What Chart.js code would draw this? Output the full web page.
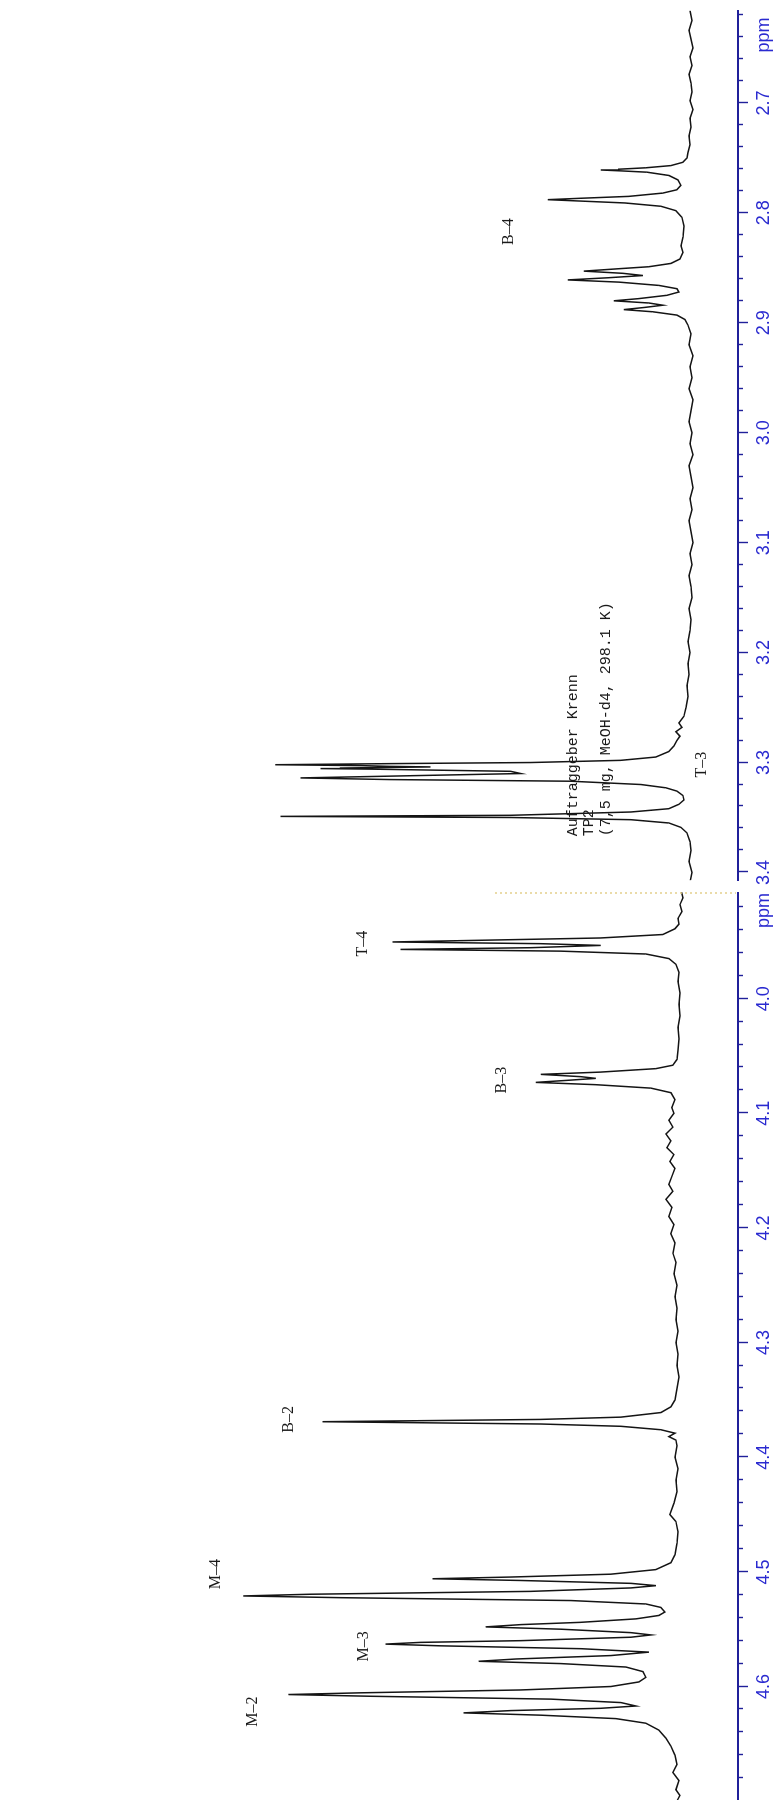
<!DOCTYPE html>
<html>
<head>
<meta charset="utf-8">
<script src="https://cdn.jsdelivr.net/npm/chart.js@4.4.1/dist/chart.umd.min.js"></script>
<style>
	html, body { margin: 0; padding: 0; background: #fff; }
	body { width: 775px; height: 1804px; overflow: hidden; position: relative; }
	/* the spectrum is laid out landscape, then turned a quarter to the left */
	#sheet {
		position: absolute; left: 0; top: 0;
		width: 1804px; height: 791px;
		transform-origin: 0 0;
		transform: translate(0, 1804px) rotate(-90deg);
	}
	#sheet canvas { position: absolute; top: 0; }
	#lowField { left: 4px; }
	#highField { left: 904px; }
</style>
</head>
<body>
<div id="sheet">
	<canvas id="lowField" width="908" height="791"></canvas>
	<canvas id="highField" width="900" height="791"></canvas>
</div>
<script>
/************  DATA  ************/

// 2.6 - 3.4 ppm window
const highFieldShift = [
	2.616, 2.625, 2.634, 2.642, 2.650, 2.658, 2.666, 2.674, 2.682, 2.690,
	2.698, 2.706, 2.714, 2.722, 2.730, 2.738, 2.745, 2.750, 2.754, 2.757,
	2.759, 2.7603, 2.761, 2.7618, 2.763, 2.766, 2.770, 2.775, 2.779, 2.782,
	2.785, 2.7868, 2.788, 2.7892, 2.791, 2.794, 2.798, 2.804, 2.812, 2.822,
	2.830, 2.836, 2.842, 2.846, 2.849, 2.851, 2.853, 2.855, 2.857, 2.859,
	2.861, 2.863, 2.866, 2.869, 2.872, 2.875, 2.878, 2.880, 2.882, 2.884,
	2.886, 2.888, 2.890, 2.893, 2.897, 2.902, 2.910, 2.920, 2.930, 2.940,
	2.950, 2.960, 2.970, 2.980, 2.990, 3.000, 3.010, 3.020, 3.030, 3.040,
	3.050, 3.060, 3.070, 3.080, 3.090, 3.100, 3.110, 3.120, 3.130, 3.140,
	3.150, 3.160, 3.170, 3.180, 3.190, 3.200, 3.210, 3.220, 3.230, 3.240,
	3.250, 3.258, 3.264, 3.268, 3.272, 3.276, 3.280, 3.285, 3.290, 3.295,
	3.298, 3.300, 3.301, 3.302, 3.3028, 3.3035, 3.304, 3.305, 3.3055, 3.306,
	3.308, 3.310, 3.312, 3.314, 3.3155, 3.317, 3.320, 3.323, 3.326, 3.330,
	3.334, 3.338, 3.342, 3.345, 3.348, 3.349, 3.350, 3.352, 3.355, 3.359,
	3.364, 3.372, 3.380, 3.390, 3.400, 3.409
];
const highFieldSignal = [
	1, -1, 2, 0, -2, 1, -1, 2, 0, -1,
	1, -2, 1, 0, 2, 1, 3, 4, 8, 20,
	45, 72, 90, 70, 44, 22, 13, 10, 14, 28,
	62, 112, 143, 112, 66, 30, 15, 9, 7, 8,
	10, 8, 11, 20, 42, 75, 107, 68, 48, 82,
	123, 72, 32, 14, 12, 24, 52, 77, 42, 28,
	46, 67, 38, 14, 6, 3, 0, 2, -2, 1,
	-1, 2, -2, 0, 2, -1, 1, -2, 2, 0,
	-2, 1, -1, 2, 0, -2, 1, -1, 2, 0,
	-1, 2, 0, 1, 3, 1, 3, 2, 4, 3,
	5, 7, 12, 9, 15, 11, 14, 17, 22, 35,
	70, 160, 300, 415, 330, 300, 260, 350, 370, 320,
	180, 170, 280, 390, 300, 120, 50, 25, 14, 8,
	7, 12, 22, 60, 180, 410, 180, 60, 22, 10,
	4, 1, 0, 2, -1, 1
];

// 3.9 - 4.7 ppm window
const lowFieldShift = [
	3.905, 3.912, 3.918, 3.924, 3.930, 3.935, 3.939, 3.944, 3.947, 3.9505,
	3.952, 3.9535, 3.9555, 3.957, 3.9585, 3.961, 3.965, 3.970, 3.977, 3.985,
	3.995, 4.005, 4.015, 4.025, 4.035, 4.045, 4.053, 4.058, 4.061, 4.064,
	4.066, 4.068, 4.0695, 4.071, 4.073, 4.075, 4.078, 4.082, 4.088, 4.095,
	4.100, 4.106, 4.112, 4.118, 4.124, 4.130, 4.136, 4.142, 4.148, 4.155,
	4.162, 4.168, 4.175, 4.182, 4.190, 4.197, 4.205, 4.213, 4.222, 4.230,
	4.240, 4.250, 4.260, 4.270, 4.280, 4.290, 4.300, 4.310, 4.320, 4.330,
	4.340, 4.350, 4.356, 4.361, 4.365, 4.367, 4.369, 4.371, 4.373, 4.376,
	4.379, 4.382, 4.385, 4.390, 4.400, 4.410, 4.420, 4.430, 4.440, 4.450,
	4.456, 4.465, 4.475, 4.485, 4.492, 4.498, 4.502, 4.5045, 4.506, 4.5075,
	4.510, 4.512, 4.514, 4.517, 4.5195, 4.521, 4.5225, 4.525, 4.528, 4.531,
	4.535, 4.538, 4.541, 4.544, 4.546, 4.548, 4.550, 4.553, 4.555, 4.557,
	4.560, 4.5615, 4.563, 4.5645, 4.567, 4.570, 4.573, 4.576, 4.578, 4.580,
	4.583, 4.587, 4.592, 4.596, 4.600, 4.603, 4.6055, 4.607, 4.6085, 4.611,
	4.614, 4.617, 4.619, 4.621, 4.623, 4.625, 4.628, 4.632, 4.638, 4.645,
	4.652, 4.660, 4.668, 4.675, 4.682, 4.690, 4.695, 4.700
];
const lowFieldSignal = [
	10, 8, 11, 9, 13, 12, 16, 28, 90, 298,
	150, 90, 160, 290, 130, 45, 22, 15, 12, 13,
	11, 12, 11, 13, 12, 13, 14, 18, 35, 90,
	150, 110, 95, 120, 155, 95, 40, 20, 16, 19,
	17, 22, 18, 25, 20, 24, 17, 21, 16, 19,
	22, 18, 25, 19, 22, 17, 20, 16, 18, 15,
	17, 14, 16, 14, 15, 13, 15, 13, 14, 12,
	14, 16, 20, 30, 70, 150, 368, 150, 70, 30,
	16, 22, 15, 14, 16, 13, 15, 14, 17, 21,
	15, 13, 14, 16, 20, 35, 80, 180, 258, 170,
	60, 35, 60, 160, 380, 447, 350, 120, 45, 30,
	26, 32, 55, 110, 170, 205, 130, 60, 40, 60,
	170, 270, 305, 250, 110, 42, 80, 175, 212, 130,
	65, 48, 45, 52, 80, 170, 330, 402, 320, 140,
	70, 55, 90, 180, 227, 150, 75, 45, 32, 25,
	20, 16, 14, 18, 12, 15, 11, 14
];

// peak assignments
const highFieldLabels = ['B–4', 'T–3'];
const highFieldLabelShift = [2.817, 3.302];
const highFieldLabelLevel = [182, -11];
const lowFieldLabels = ['T–4', 'B–3', 'B–2', 'M–4', 'M–3', 'M–2'];
const lowFieldLabelShift = [3.952, 4.071, 4.367, 4.502, 4.565, 4.622];
const lowFieldLabelLevel = [328, 189, 402, 474, 327, 438];

const headerLines = ['Auftraggeber Krenn', 'TP2', '(7,5 mg, MeOH-d4, 298.1 K)'];

/************  STYLE  ************/

const axisBlue = '#20209a';
const labelBlue = '#2a2ad0';

function isTenth(v) {
	return Math.abs(v * 10 - Math.round(v * 10)) < 1e-6;
}
function isStep(v) {
	return Math.abs(v * 50 - Math.round(v * 50)) < 1e-6;
}

// ticks of two lengths, unit, peak names and the sample header
const axisDecor = {
	id: 'axisDecor',
	afterDraw(chart, args, opts) {
		const ctx = chart.ctx;
		const xs = chart.scales.x;
		const ys = chart.scales.y;
		ctx.save();

		ctx.strokeStyle = axisBlue;
		ctx.lineWidth = 1.4;
		xs.ticks.forEach(t => {
			if (!isStep(t.value)) return;
			const px = Math.round(xs.getPixelForValue(t.value)) + 0.5;
			ctx.beginPath();
			ctx.moveTo(px, xs.top);
			ctx.lineTo(px, xs.top + (isTenth(t.value) ? 10 : 5));
			ctx.stroke();
		});

		ctx.fillStyle = labelBlue;
		ctx.font = '18px "Liberation Sans", Arial, sans-serif';
		ctx.textAlign = 'right';
		ctx.textBaseline = 'middle';
		ctx.fillText('ppm', xs.right - opts.unitInset, xs.top + 26);

		ctx.fillStyle = '#1a1a1a';
		ctx.font = '16px "Liberation Serif", "Times New Roman", serif';
		ctx.textAlign = 'center';
		opts.labels.forEach((txt, i) => {
			ctx.fillText(
				txt,
				xs.getPixelForValue(opts.labelShift[i]),
				ys.getPixelForValue(opts.labelLevel[i])
			);
		});

		if (opts.header) {
			ctx.font = '15px "Liberation Mono", "Courier New", monospace';
			ctx.textAlign = 'left';
			const x0 = xs.getPixelForValue(3.367);
			headerLines.forEach((line, i) => {
				ctx.fillText(line, x0, ys.getPixelForValue(118 - i * 16.5));
			});
		}

		if (opts.seam) {
			ctx.strokeStyle = '#e3cf8c';
			ctx.lineWidth = 1.5;
			ctx.setLineDash([2, 3]);
			ctx.beginPath();
			ctx.moveTo(chart.width - 1, 495);
			ctx.lineTo(chart.width - 1, xs.top - 2);
			ctx.stroke();
		}
		ctx.restore();
	},
};

function spectrumChart(canvasId, shift, signal, range, decor) {
	const points = shift.map((s, i) => ({ x: s, y: signal[i] }));
	return new Chart(document.getElementById(canvasId), {
		type: 'line',
		data: {
			datasets: [
				{
					data: points,
					borderColor: '#141414',
					borderWidth: 1.5,
					pointRadius: 0,
					tension: 0,
					fill: false,
				},
			],
		},
		options: {
			responsive: false,
			animation: false,
			events: [],
			layout: { padding: { left: decor.padLeft, right: 0, top: 0, bottom: 1.4 } },
			plugins: {
				legend: { display: false },
				tooltip: { enabled: false },
				axisDecor: decor,
			},
			scales: {
				x: {
					type: 'linear',
					reverse: true,
					min: range[0],
					max: range[1],
					grid: { display: false, drawTicks: false },
					border: { display: true, color: axisBlue, width: 2 },
					ticks: {
						stepSize: 0.02,
						autoSkip: false,
						includeBounds: false,
						maxRotation: 0,
						padding: 15,
						color: labelBlue,
						font: { family: '"Liberation Sans", Arial, sans-serif', size: 18 },
						callback: value => (isTenth(value) ? value.toFixed(1) : ''),
					},
				},
				y: {
					display: false,
					min: -47,
					max: 690,
				},
			},
		},
		plugins: [axisDecor],
	});
}

spectrumChart('lowField', lowFieldShift, lowFieldSignal, [3.907, 4.699], {
	padLeft: 0,
	unitInset: 1,
	labels: lowFieldLabels,
	labelShift: lowFieldLabelShift,
	labelLevel: lowFieldLabelLevel,
	header: false,
	seam: true,
});

spectrumChart('highField', highFieldShift, highFieldSignal, [2.616, 3.407], {
	padLeft: 14,
	unitInset: 7,
	labels: highFieldLabels,
	labelShift: highFieldLabelShift,
	labelLevel: highFieldLabelLevel,
	header: true,
	seam: false,
});
</script>
</body>
</html>
